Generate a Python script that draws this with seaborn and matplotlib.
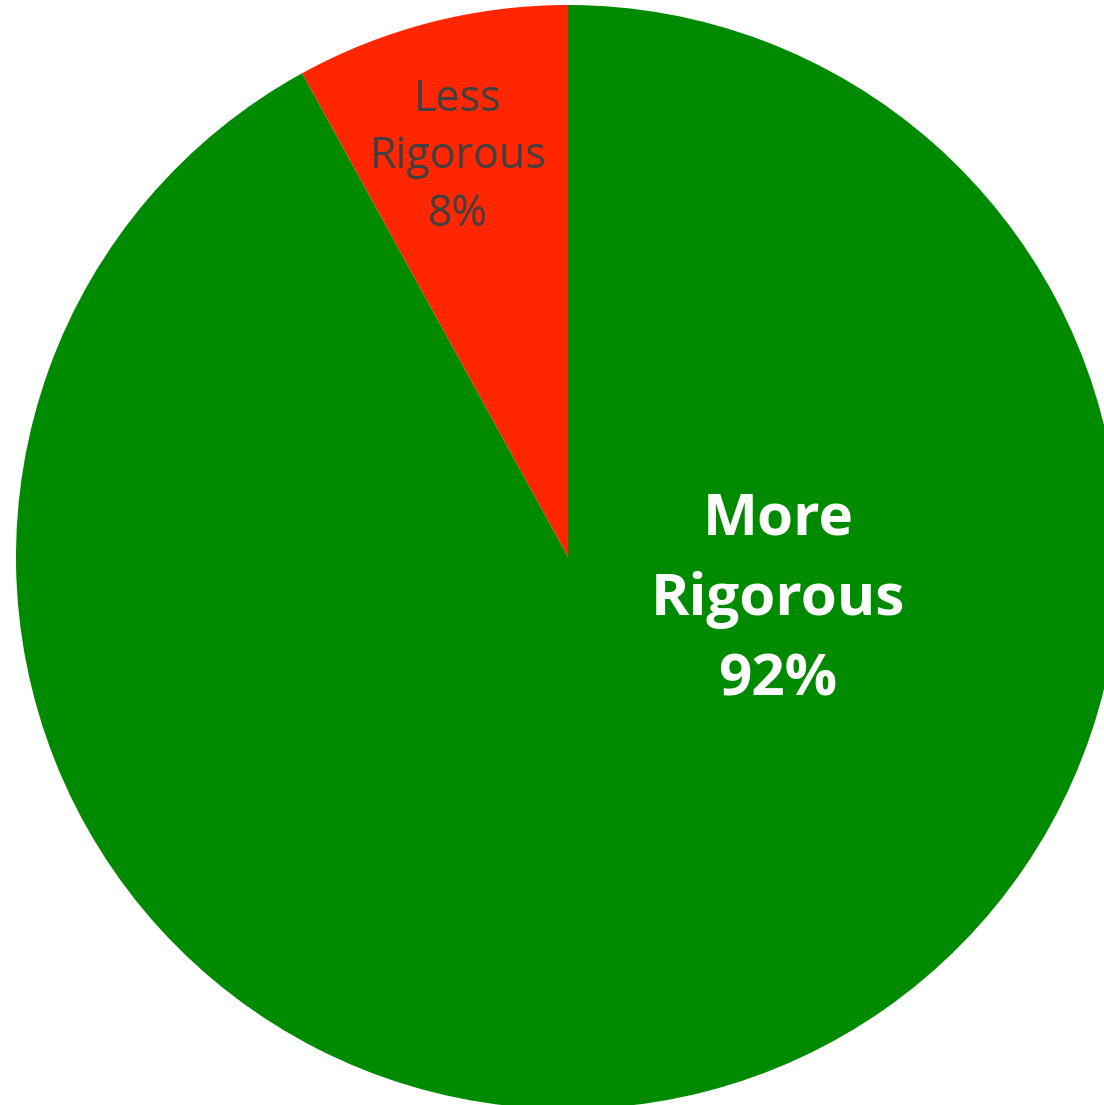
import matplotlib.pyplot as plt
import seaborn as sns
import numpy as np

# chart data
categories = ["Less\nRigorous", "More\nRigorous"]
shares = [8, 92]
colors = ["#FF2600", "#008A00"]

sns.set_theme(style="white")
plt.rcParams['font.family'] = ['Open Sans', 'DejaVu Sans']

W, H = 1104, 1105
fig = plt.figure(figsize=(W / 100, H / 100), dpi=100)
ax = fig.add_axes([0, 0, 1, 1])

# pie geometry in pixels
cx, cy, r = 568, 557, 552

wedges, _ = ax.pie(shares, colors=colors, startangle=90, counterclock=True,
                   radius=1.0, wedgeprops=dict(linewidth=0))

ax.set_xlim(-cx / r, (W - cx) / r)
ax.set_ylim(-(H - cy) / r, cy / r)
ax.set_aspect('equal')
ax.axis('off')

# data labels
labels = [f"{c}\n{v}%" for c, v in zip(categories, shares)]
ax.text((458 - cx) / r, (cy - 157) / r, labels[0], ha='center', va='center',
        fontsize=31, color='#404040', linespacing=1.39)
ax.text((778 - cx) / r, (cy - 600) / r, labels[1], ha='center', va='center',
        fontsize=42, color='white', fontweight='bold', linespacing=1.52)

fig.savefig("out.png", dpi=100, facecolor='white')
